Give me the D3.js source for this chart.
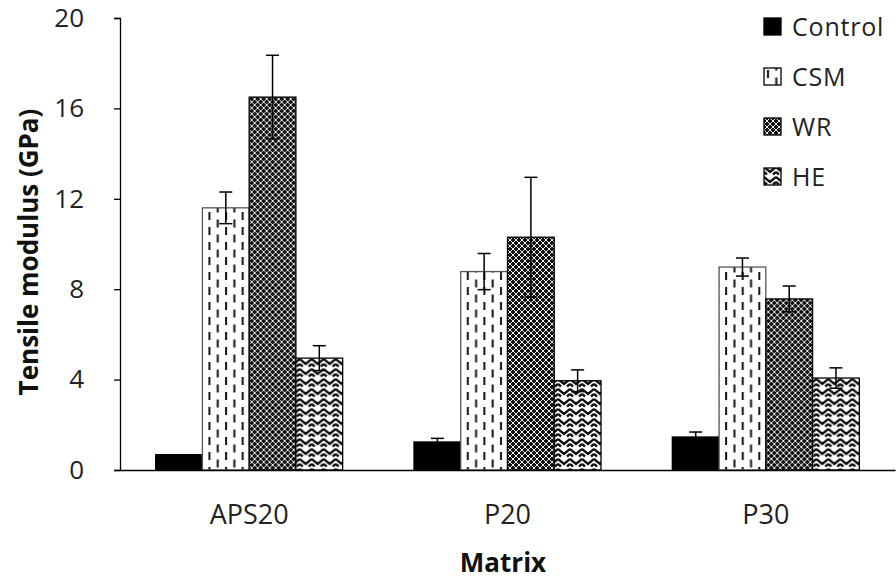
<!DOCTYPE html>
<html>
<head>
<meta charset="utf-8">
<script src="https://cdn.jsdelivr.net/npm/d3@7"></script>
<style>
	body { margin: 0; background: #fff; }
	svg { display: block; font-family: "Open Sans", Lato, sans-serif; }
</style>
</head>
<body>
<svg id="chart" width="896" height="581"></svg>
<script>
var categories = ['APS20', 'P20', 'P30'];
var series = ['Control', 'CSM', 'WR', 'HE'];
// mean values per series, in category order
var control = [0.68, 1.24, 1.46];
var csm = [11.6, 8.78, 8.98];
var wr = [16.5, 10.3, 7.57];
var he = [4.95, 3.95, 4.07];
// error bar half-lengths
var controlErr = [0, 0.16, 0.22];
var csmErr = [0.7, 0.8, 0.4];
var wrErr = [1.85, 2.65, 0.57];
var heErr = [0.55, 0.48, 0.45];
var yTicks = [0, 4, 8, 12, 16, 20];

var values = [control, csm, wr, he],
	errors = [controlErr, csmErr, wrErr, heErr];

var svg = d3.select('#chart');
var defs = svg.append('defs');

// CSM: vertical dashes
var p = defs.append('pattern').attr('id', 'pat-csm')
	.attr('patternUnits', 'userSpaceOnUse').attr('width', 16.6).attr('height', 15);
p.append('rect').attr('width', 16.6).attr('height', 15).attr('fill', '#fff');
p.append('rect').attr('x', 3).attr('y', 2).attr('width', 2).attr('height', 8).attr('fill', '#111');
p.append('rect').attr('x', 11.3).attr('y', 9.5).attr('width', 2).attr('height', 8).attr('fill', '#111');
p.append('rect').attr('x', 11.3).attr('y', -5.5).attr('width', 2).attr('height', 8).attr('fill', '#111');

// WR: dark diamond net
p = defs.append('pattern').attr('id', 'pat-wr')
	.attr('patternUnits', 'userSpaceOnUse').attr('width', 6).attr('height', 6);
p.append('rect').attr('width', 6).attr('height', 6).attr('fill', '#111');
p.append('path').attr('d', 'M0,0L6,6M6,0L0,6')
	.attr('stroke', '#fff').attr('stroke-width', 0.9);
p.append('rect').attr('x', 2.4).attr('y', 2.4).attr('width', 1.2).attr('height', 1.2).attr('fill', '#fff');

// HE: chevron weave
p = defs.append('pattern').attr('id', 'pat-he')
	.attr('patternUnits', 'userSpaceOnUse').attr('width', 12).attr('height', 10);
p.append('rect').attr('width', 12).attr('height', 10).attr('fill', '#fff');
p.append('path').attr('d', 'M0,-1L6,4L12,-1M0,9L6,14L12,9M0,4L3,6.5M12,4L9,6.5')
	.attr('fill', 'none').attr('stroke', '#111').attr('stroke-width', 2.4);

var fills = ['#000', 'url(#pat-csm)', 'url(#pat-wr)', 'url(#pat-he)'];
var strokes = ['#000', '#555', '#000', '#000'];

var plotLeft = 120, plotRight = 895, plotTop = 18, plotBottom = 470;

var x = d3.scaleBand().domain(categories).range([plotLeft, plotRight]);
var xs = d3.scaleBand().domain(series).range([0, 187]);
var y = d3.scaleLinear().domain([0, 20]).range([plotBottom, plotTop]);

// bars
var groups = svg.append('g').selectAll('g')
	.data(categories)
	.join('g')
	.attr('transform', function(d) {
		return 'translate(' + (x(d) + x.bandwidth() / 2 - 93.5) + ',0)';
	});

groups.each(function(cat, ci) {
	var g = d3.select(this);
	series.forEach(function(s, si) {
		var v = values[si][ci];
		g.append('rect')
			.attr('x', xs(s))
			.attr('y', y(v))
			.attr('width', xs.bandwidth())
			.attr('height', plotBottom - y(v))
			.attr('fill', fills[si])
			.attr('stroke', strokes[si])
			.attr('stroke-width', 1.3);
	});
});

// error bars
groups.each(function(cat, ci) {
	var g = d3.select(this);
	series.forEach(function(s, si) {
		var v = values[si][ci], e = errors[si][ci];
		if (!e) return;
		var cx = xs(s) + xs.bandwidth() / 2;
		var eb = g.append('g').attr('stroke', '#000').attr('stroke-width', 1.5);
		eb.append('line').attr('x1', cx).attr('x2', cx).attr('y1', y(v - e)).attr('y2', y(v + e));
		eb.append('line').attr('x1', cx - 6.5).attr('x2', cx + 6.5).attr('y1', y(v + e)).attr('y2', y(v + e));
		eb.append('line').attr('x1', cx - 6.5).attr('x2', cx + 6.5).attr('y1', y(v - e)).attr('y2', y(v - e));
	});
});

// y axis
var yAxis = svg.append('g')
	.attr('transform', 'translate(' + plotLeft + ',0)')
	.call(d3.axisLeft(y).tickValues(yTicks).tickSize(6).tickPadding(30));
yAxis.select('.domain').attr('stroke', '#000').attr('stroke-width', 1.3);
yAxis.selectAll('.tick line').attr('stroke', '#000').attr('stroke-width', 1.3);
yAxis.selectAll('.tick text').attr('font-size', 26).attr('fill', '#222')
	.attr('font-family', '"Open Sans", sans-serif');

// x axis
var xAxis = svg.append('g')
	.attr('transform', 'translate(0,' + plotBottom + ')')
	.call(d3.axisBottom(x).tickSize(0).tickSizeOuter(0).tickPadding(35));
xAxis.select('.domain').attr('stroke', '#000').attr('stroke-width', 1.3);
xAxis.selectAll('.tick text').attr('font-size', 27).attr('fill', '#222')
	.attr('font-family', '"Open Sans", sans-serif');

// axis titles
svg.append('text')
	.attr('transform', 'translate(38,' + ((plotTop + plotBottom) / 2 + 8) + ') rotate(-90)')
	.attr('text-anchor', 'middle')
	.attr('font-size', 26).attr('font-weight', 'bold').attr('fill', '#111')
	.text('Tensile modulus (GPa)');

svg.append('text')
	.attr('x', 503).attr('y', 572)
	.attr('text-anchor', 'middle')
	.attr('font-size', 26).attr('font-weight', 'bold').attr('fill', '#111')
	.text('Matrix');

// legend
var legend = svg.append('g').selectAll('g')
	.data(series)
	.join('g')
	.attr('transform', function(d, i) { return 'translate(764,' + (18 + i * 50) + ')'; });

legend.append('rect')
	.attr('width', 17).attr('height', 17)
	.attr('fill', function(d, i) { return fills[i]; })
	.attr('stroke', '#000').attr('stroke-width', 1.3);

legend.append('text')
	.attr('x', 28).attr('y', 18)
	.attr('font-size', 25).attr('letter-spacing', 0.8).attr('fill', '#222')
	.text(function(d) { return d; });
</script>
</body>
</html>
